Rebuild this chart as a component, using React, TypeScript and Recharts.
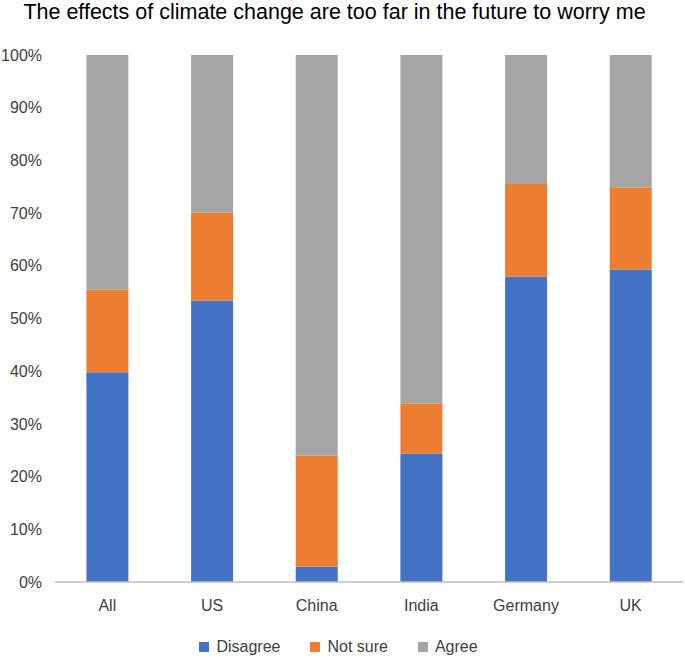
import React from 'react';
import { BarChart, Bar, XAxis, YAxis, Legend } from 'recharts';

const countries = ['All', 'US', 'China', 'India', 'Germany', 'UK'];
const disagree = [39.8, 53.4, 2.9, 24.4, 57.9, 59.3];
const notSure = [15.7, 16.7, 21.1, 9.5, 17.6, 15.6];
const agree = [44.5, 29.9, 76.0, 66.1, 24.5, 25.1];
const yTicks = [0, 10, 20, 30, 40, 50, 60, 70, 80, 90, 100];

const series = [
  { key: 'disagree', name: 'Disagree', color: '#4472C4' },
  { key: 'notSure', name: 'Not sure', color: '#ED7D31' },
  { key: 'agree', name: 'Agree', color: '#A5A5A5' },
];

const data = countries.map((name, i) => ({
  name,
  disagree: disagree[i],
  notSure: notSure[i],
  agree: agree[i],
}));

const font = '"Liberation Sans", Arial, sans-serif';
const tickStyle = { fontSize: 16, fill: '#404040', fontFamily: font };

function LegendRow() {
  return (
    <div
      style={{
        display: 'flex',
        justifyContent: 'center',
        fontFamily: font,
        fontSize: 16,
        lineHeight: '20px',
        color: '#404040',
        marginLeft: -6,
      }}
    >
      {series.map((s) => (
        <div key={s.key} style={{ display: 'flex', alignItems: 'center', margin: '0 15px' }}>
          <span style={{ width: 10, height: 10, background: s.color, marginRight: 7, display: 'inline-block' }} />
          <span>{s.name}</span>
        </div>
      ))}
    </div>
  );
}

export default function App() {
  return (
    <div style={{ position: 'absolute', left: 0, top: 0, width: 685, height: 658, background: '#fff' }}>
      <div
        style={{
          position: 'absolute',
          top: 0,
          left: -8,
          width: 685,
          textAlign: 'center',
          fontFamily: font,
          fontSize: 21.5,
          color: '#000',
          lineHeight: '24px',
        }}
      >
        The effects of climate change are too far in the future to worry me
      </div>
      <BarChart
        width={685}
        height={658}
        data={data}
        margin={{ top: 55, right: 2, bottom: 26, left: 0 }}
        barCategoryGap="30%"
      >
        <XAxis
          dataKey="name"
          axisLine={{ stroke: '#bfbfbf', strokeWidth: 1.5 }}
          tickLine={false}
          tickSize={0}
          tickMargin={18}
          height={30}
          tick={tickStyle}
        />
        <YAxis
          domain={[0, 100]}
          ticks={yTicks}
          axisLine={false}
          tickLine={false}
          tickSize={0}
          tickMargin={13}
          width={55}
          tick={tickStyle}
          tickFormatter={(v) => `${v}%`}
          interval={0}
        />
        <Legend verticalAlign="bottom" content={() => <LegendRow />} wrapperStyle={{ bottom: 1 }} />
        {series.map((s) => (
          <Bar key={s.key} dataKey={s.key} name={s.name} stackId="a" fill={s.color} isAnimationActive={false} />
        ))}
      </BarChart>
    </div>
  );
}
